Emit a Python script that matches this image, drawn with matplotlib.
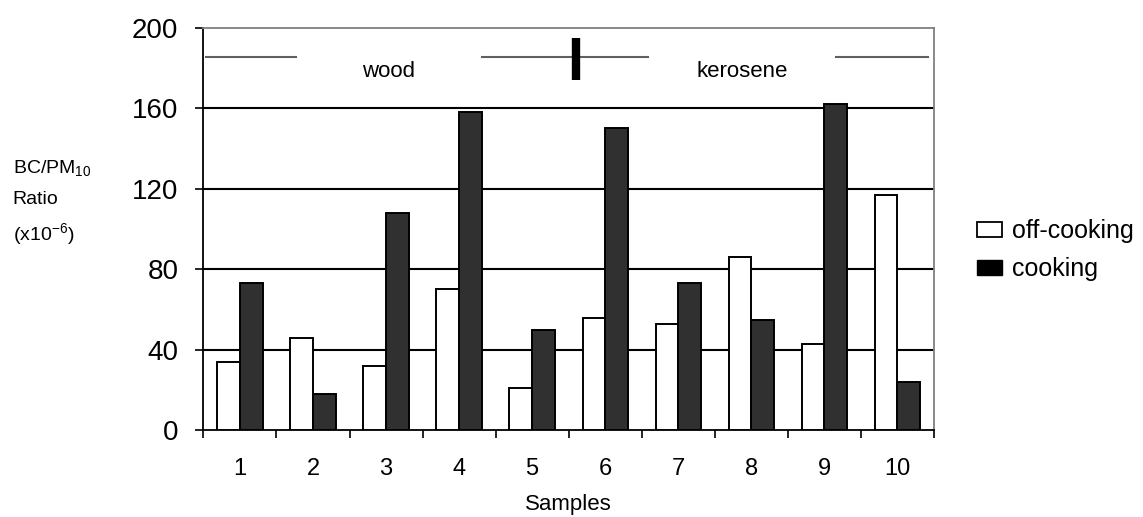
import numpy as np
import matplotlib.pyplot as plt
from matplotlib.patches import Patch

plt.rcParams['font.family'] = ['Liberation Sans', 'DejaVu Sans']
plt.rcParams['mathtext.fontset'] = 'custom'
plt.rcParams['mathtext.rm'] = 'Liberation Sans'
plt.rcParams['mathtext.it'] = 'Liberation Sans'

# data
samples = ['1', '2', '3', '4', '5', '6', '7', '8', '9', '10']
off_cooking = [34, 46, 32, 70, 21, 56, 53, 86, 43, 117]
cooking = [73, 18, 108, 158, 50, 150, 73, 55, 162, 24]
yticks = [0, 40, 80, 120, 160, 200]

fig = plt.figure(figsize=(11.43, 5.17), dpi=100)
ax = fig.add_axes([0.178, 0.168, 0.639, 0.778])

x = np.arange(1, len(samples) + 1)
w = 0.31
ax.bar(x - w / 2, off_cooking, w, color='white', edgecolor='black', lw=1.4, zorder=3)
ax.bar(x + w / 2, cooking, w, color='#303030', edgecolor='black', lw=1.4, zorder=3)

ax.set_xlim(0.5, len(samples) + 0.5)
ax.set_ylim(0, 200)

# grid lines (behind the bars)
for yv in yticks[1:-1]:
    ax.axhline(yv, color='black', lw=1.5, zorder=1)

ax.set_yticks(yticks)
ax.set_yticklabels([str(v) for v in yticks], fontsize=20)
ax.tick_params(axis='y', direction='out', length=6, width=1.2, pad=12)

ax.set_xticks(np.arange(0.5, len(samples) + 1, 1))
ax.set_xticklabels([])
ax.tick_params(axis='x', which='major', direction='out', length=6, width=1.2)
ax.set_xticks(x, minor=True)
ax.set_xticklabels(samples, minor=True, fontsize=17)
ax.tick_params(axis='x', which='minor', length=0, pad=20)

ax.set_xlabel('Samples', fontsize=16, labelpad=10)

for s in ['left', 'bottom']:
    ax.spines[s].set_linewidth(1.3)
    ax.spines[s].set_color('black')
for s in ['top', 'right']:
    ax.spines[s].set_linewidth(1.3)
    ax.spines[s].set_color('#808080')

# fuel-type bracket at top
lc = '#606060'
ax.plot([0.53, 1.77], [185.5, 185.5], color=lc, lw=1.5, zorder=4)
ax.plot([4.31, 6.59], [185.5, 185.5], color=lc, lw=1.5, zorder=4)
ax.plot([9.16, 10.42], [185.5, 185.5], color=lc, lw=1.5, zorder=4)
ax.plot([5.6, 5.6], [174, 195], color='black', lw=6, solid_capstyle='butt', zorder=5)
ax.text(3.04, 178.5, 'wood', ha='center', va='center', fontsize=16)
ax.text(7.88, 178.5, 'kerosene', ha='center', va='center', fontsize=16)

# y label as three stacked lines
H = 517
fig.text(0.011, 1 - 168 / H, 'BC/PM$_{10}$', ha='left', va='center', fontsize=14)
fig.text(0.011, 1 - 200 / H, 'Ratio', ha='left', va='center', fontsize=14)
fig.text(0.011, 1 - 234 / H, '(x10$^{-6}$)', ha='left', va='center', fontsize=14)

handles = [Patch(facecolor='white', edgecolor='black', lw=1.3, label='off-cooking'),
           Patch(facecolor='black', edgecolor='black', label='cooking')]
fig.legend(handles=handles, loc='center left', bbox_to_anchor=(0.855, 1 - 250 / H),
           frameon=False, fontsize=18, handlelength=1.0, handleheight=0.55,
           handletextpad=0.4, labelspacing=0.55, borderpad=0, borderaxespad=0)

plt.savefig('out.png')
plt.close()
